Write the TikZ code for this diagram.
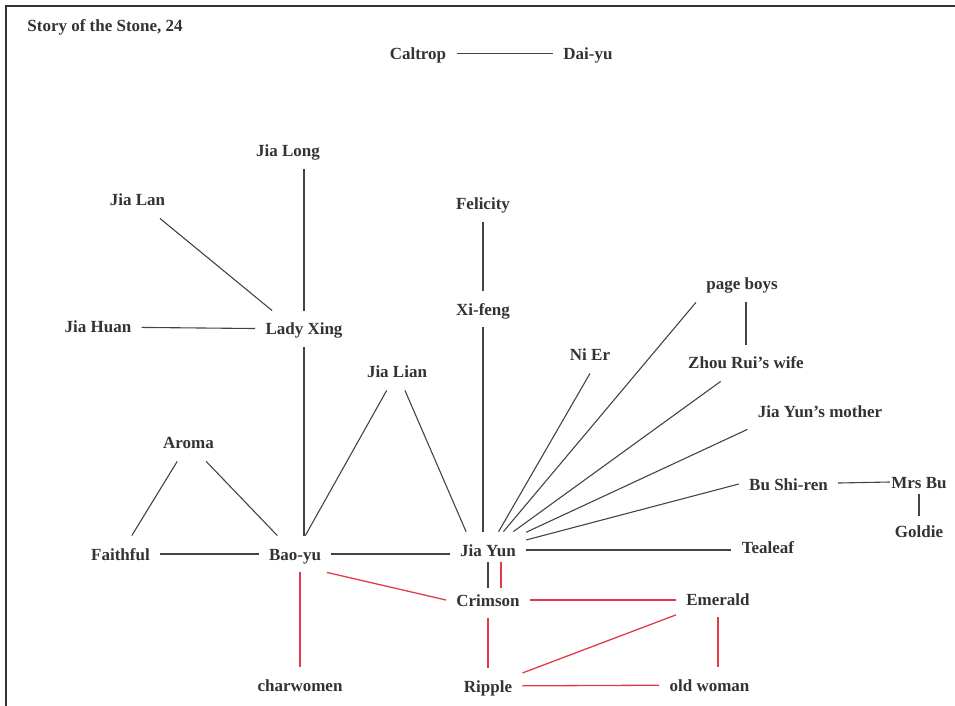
\documentclass[tikz,border=0pt]{standalone}
\usepackage{fontspec}
\setmainfont{Liberation Serif}
\definecolor{Ink}{HTML}{333333}
\definecolor{Wire}{HTML}{444444}
\definecolor{Rouge}{HTML}{E33A47}
\tikzset{
  person/.style={
    font=\fontsize{8.5}{10}\selectfont\bfseries, text=Ink,
    text height=7pt, text depth=1pt, inner xsep=5pt, inner ysep=5pt
  },
  tie/.style={draw=Wire, line width=0.55pt},
  redtie/.style={draw=Rouge, line width=0.65pt},
  frame/.style={draw=Ink, line width=1.4pt}
}
\begin{document}
\begin{tikzpicture}[x=0.5pt,y=-0.5pt]
    \useasboundingbox (0,0) rectangle (955,706);
    \draw[frame] (6,706) -- (6,6) -- (955,6);
    \node[person,anchor=west,inner xsep=0pt] (title) at (27,26) {Story of the Stone, 24};

    \node[person] (Caltrop) at (418,53.5) {Caltrop};
    \node[person] (Daiyu) at (588,53.5) {Dai-yu};

    \node[person] (JiaLong) at (288,151) {Jia Long};
    \node[person] (JiaLan) at (137.5,200) {Jia Lan};
    \node[person] (JiaHuan) at (98,327) {Jia Huan};
    \node[person] (LadyXing) at (304,329) {Lady Xing};
    \node[person] (Felicity) at (483,204) {Felicity};
    \node[person] (Xifeng) at (483,309) {Xi-feng};
    \node[person] (JiaLian) at (397,372) {Jia Lian};
    \node[person] (Aroma) at (188.5,443) {Aroma};
    \node[person] (Faithful) at (120.5,554) {Faithful};
    \node[person] (Baoyu) at (295,554) {Bao-yu};
    \node[person] (JiaYun) at (488,550) {Jia Yun};

    \node[person] (NiEr) at (590,355) {Ni Er};
    \node[person] (pageboys) at (742,284) {page boys};
    \node[person] (ZhouRui) at (746,363) {Zhou Rui's wife};
    \node[person] (JYmother) at (820,411) {Jia Yun's mother};
    \node[person] (BuShiren) at (788.5,484) {Bu Shi-ren};
    \node[person] (MrsBu) at (919,482) {Mrs Bu};
    \node[person] (Goldie) at (919,532) {Goldie};
    \node[person] (Tealeaf) at (768,547) {Tealeaf};

    \node[person] (Crimson) at (488,600) {Crimson};
    \node[person] (Emerald) at (718,599) {Emerald};
    \node[person] (charwomen) at (300,685) {charwomen};
    \node[person] (Ripple) at (488,686) {Ripple};
    \node[person] (oldwoman) at (709.5,685) {old woman};

    % black ties
    \draw[tie] (Caltrop) -- (Daiyu);
    \draw[tie] (JiaLong.south -| LadyXing.north) -- (LadyXing.north);
    \draw[tie] (JiaLan) -- (LadyXing.150);
    \draw[tie] (JiaHuan) -- (LadyXing);
    \draw[tie] (LadyXing.south) -- (LadyXing.south |- Baoyu.north);
    \draw[tie] (Felicity) -- (Xifeng);
    \draw[tie] (Xifeng.south) -- (Xifeng.south |- JiaYun.north);
    \draw[tie] (JiaLian) -- (Baoyu);
    \draw[tie] (JiaLian) -- (JiaYun.140);
    \draw[tie] (Aroma) -- (Faithful);
    \draw[tie] (Aroma) -- (Baoyu);
    \draw[tie] (Faithful) -- (Baoyu);
    \draw[tie] (Baoyu) -- (Baoyu -| JiaYun.west);
    \draw[tie] (JiaYun) -- (NiEr.south);
    \draw[tie] (JiaYun) -- (pageboys.south west);
    \draw[tie] (JiaYun) -- (ZhouRui);
    \draw[tie] (JiaYun) -- (JYmother.south west);
    \draw[tie] (JiaYun) -- (BuShiren.west);
    \draw[tie] (JiaYun) -- (JiaYun -| Tealeaf.west);
    \draw[tie] (ZhouRui.north) -- (ZhouRui.north |- pageboys.south);
    \draw[tie] (BuShiren) -- ([xshift=4.5pt]MrsBu.west);
    \draw[tie, shorten <=-3pt, shorten >=-1pt] (MrsBu) -- (Goldie);
    \draw[tie, shorten <=-3pt, shorten >=-3pt] (JiaYun) -- (Crimson);

    % red ties
    \draw[redtie, shorten <=-3pt, shorten >=-3pt] ([xshift=6.5pt]JiaYun.south) -- ([xshift=6.5pt]Crimson.north);
    \draw[redtie] (Baoyu.-30) -- (Crimson.west);
    \draw[redtie] (Baoyu.south -| charwomen.north) -- (charwomen.north);
    \draw[redtie] (Crimson) -- (Crimson -| Emerald.west);
    \draw[redtie] (Crimson) -- (Ripple);
    \draw[redtie] (Emerald) -- (Ripple);
    \draw[redtie] (Emerald.south) -- (Emerald.south |- oldwoman.north);
    \draw[redtie] (Ripple) -- (oldwoman);
\end{tikzpicture}
\end{document}
